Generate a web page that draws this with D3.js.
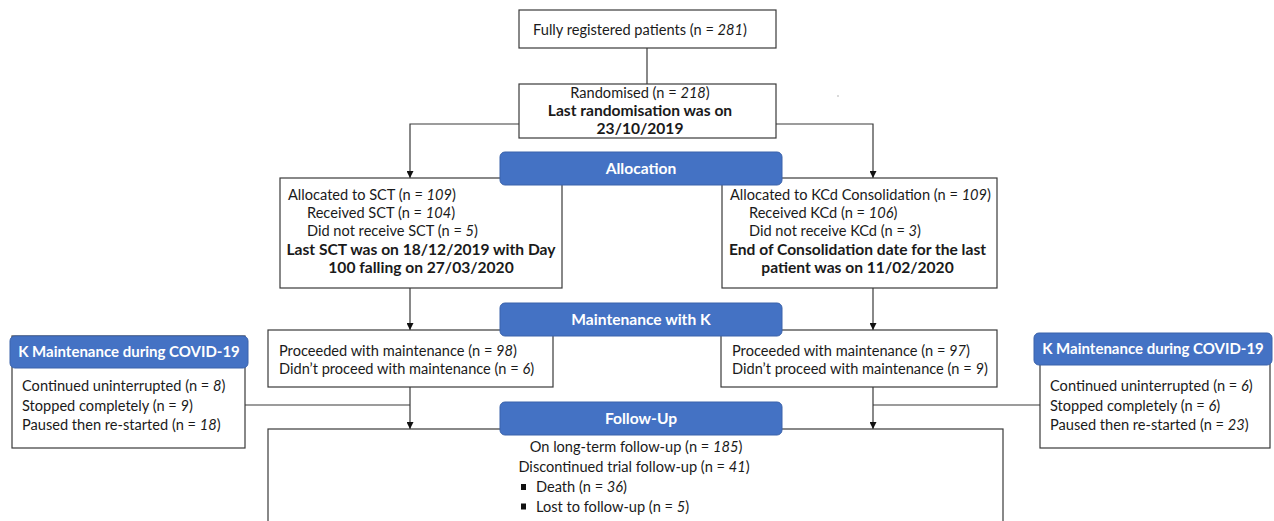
<!DOCTYPE html>
<html><head><meta charset="utf-8">
<script src="https://cdn.jsdelivr.net/npm/d3@7"></script>
<style>body{margin:0;background:#fff}svg{display:block}text{font-family:Lato,"Open Sans",sans-serif;font-size:14.6px;fill:#1a1a1a}</style>
</head><body><svg id="c" width="1274" height="521"></svg>
<script>
// ---- data ----
const registered = 281;
const randomised = 218;
const arms = ["SCT", "KCd"];
const allocated = [109, 109];
const received = [104, 106];
const notReceived = [5, 3];
const armNotes = [["Last SCT was on 18/12/2019  with Day", "100 falling on 27/03/2020"],
                  ["End of Consolidation date for the last", "patient was on 11/02/2020"]];
const proceeded = [98, 97];
const notProceeded = [6, 9];
const covidLabels = ["Continued uninterrupted  (n = ", "Stopped  completely (n = ", "Paused then  re-started (n = "];
const covidCounts = [[8, 9, 18], [6, 6, 23]];
const stageHeaders = ["Allocation", "Maintenance with K", "Follow-Up"];
const covidHeader = "K Maintenance during COVID-19";
const followUp = [185, 41];
const followUpReasons = ["Death (n = ", "Lost to follow-up (n = "];
const followUpCounts = [36, 5];

// ---- drawing ----
const svg = d3.select("#c");
const lineCol = "#3a3a3a", blue = "#4472C4", blueEdge = "#3a62ab";
svg.append("defs").append("marker").attr("id","ah").attr("viewBox","0 0 10 10")
  .attr("refX",10).attr("refY",5).attr("markerWidth",7).attr("markerHeight",7).attr("orient","auto")
  .attr("markerUnits","userSpaceOnUse")
  .append("path").attr("d","M0,0L10,5L0,10z").attr("fill","#111");

function line(pts, arrow){
  const p = svg.append("path").attr("d", d3.line()(pts)).attr("fill","none")
    .attr("stroke", lineCol).attr("stroke-width",1.2);
  if(arrow) p.attr("marker-end","url(#ah)");
}
function box(x,y,w,h){
  svg.append("rect").attr("x",x).attr("y",y).attr("width",w).attr("height",h)
    .attr("fill","#fff").attr("stroke",lineCol).attr("stroke-width",1.2);
}
function header(x,y,w,h,label,fs){
  svg.append("rect").attr("x",x).attr("y",y).attr("width",w).attr("height",h).attr("rx",5)
    .attr("fill",blue).attr("stroke",blueEdge).attr("stroke-width",1);
  svg.append("text").attr("x",x+w/2).attr("y",y+h/2+5).attr("text-anchor","middle")
    .style("fill","#fff").style("font-weight","bold").style("font-size",fs+"px").text(label);
}
// parts: array of [text, italic?]
function rich(x,y,parts,opts={}){
  const t = svg.append("text").attr("x",x).attr("y",y);
  if(opts.anchor) t.attr("text-anchor",opts.anchor);
  if(opts.bold) t.style("font-weight","bold").style("font-size","15.6px");
  parts.forEach(([s,it]) => { const ts=t.append("tspan").text(s); if(it) ts.style("font-style","italic"); });
  return t;
}
function nText(x,y,prefix,n,opts){ return rich(x,y,[[prefix,false],[String(n),true],[")",false]],opts); }

const armX = [410, 873];

// connectors
line([[647,48],[647,84]]);
line([[519,124],[410,124],[410,178]], true);
line([[776,124],[873,124],[873,178]], true);
armX.forEach(ax => {
  line([[ax,288],[ax,330]], true);
  line([[ax,387],[ax,429]], true);
});
line([[245,405],[410,405]]);
line([[1040,405],[873,405]]);

// top boxes
box(519,10,257,38);
nText(640,35,"Fully registered patients (n = ",registered,{anchor:"middle"});
box(519,84,257,54);
nText(640,98,"Randomised (n = ",randomised,{anchor:"middle"});
rich(640,116,[["Last randomisation was on",false]],{anchor:"middle",bold:true});
rich(640,134,[["23/10/2019",false]],{anchor:"middle",bold:true});

// allocation boxes
const allocBox = [[280,178,282,110],[722,178,275,110]];
arms.forEach((a,i) => {
  const [x,y,w,h] = allocBox[i];
  box(x,y,w,h);
  nText(x+8,y+22,`Allocated to ${i===0?"SCT":"KCd Consolidation"} (n = `,allocated[i]);
  nText(x+27,y+40,`Received ${a} (n = `,received[i]);
  nText(x+27,y+58,`Did not receive ${a} (n = `,notReceived[i]);
  armNotes[i].forEach((s,j) => rich(x+w/2+(i===0?0:-2),y+77+j*18,[[s,false]],{anchor:"middle",bold:true}));
});

// maintenance boxes
const maintBox = [[268,330,285,57],[721,330,276,57]];
maintBox.forEach(([x,y,w,h],i) => {
  box(x,y,w,h);
  nText(x+11,y+26,"Proceeded with maintenance (n = ",proceeded[i]);
  nText(x+11,y+44,"Didn\u2019t proceed with maintenance (n = ",notProceeded[i]);
});

// COVID boxes
const covBox = [[12,336,233,112,10,238],[1040,336,230,112,1034,238]];
covBox.forEach(([x,y,w,h,hx,hw],i) => {
  box(x,y,w,h);
  header(hx,y-(i?3:0),hw,32,covidHeader,15);
  covidLabels.forEach((lab,j) => nText(x+10,y+55+j*19.5,lab,covidCounts[i][j]));
});

// follow-up box
box(268,429,735,120);
nText(636,452,"On long-term follow-up (n = ",followUp[0],{anchor:"middle"});
nText(634,472,"Discontinued trial follow-up (n = ",followUp[1],{anchor:"middle"});
followUpReasons.forEach((lab,j) => {
  svg.append("rect").attr("x",521).attr("y",484+j*19.5).attr("width",5).attr("height",6).attr("fill","#111");
  nText(536,492+j*19.5,lab,followUpCounts[j]);
});

// stage headers (drawn on top)
[[152],[303],[402]].forEach(([y],i) => header(500,y,282,33,stageHeaders[i],15.6));

// stray dot
svg.append("circle").attr("cx",838).attr("cy",96).attr("r",0.7).attr("fill","#999");
</script></body></html>
